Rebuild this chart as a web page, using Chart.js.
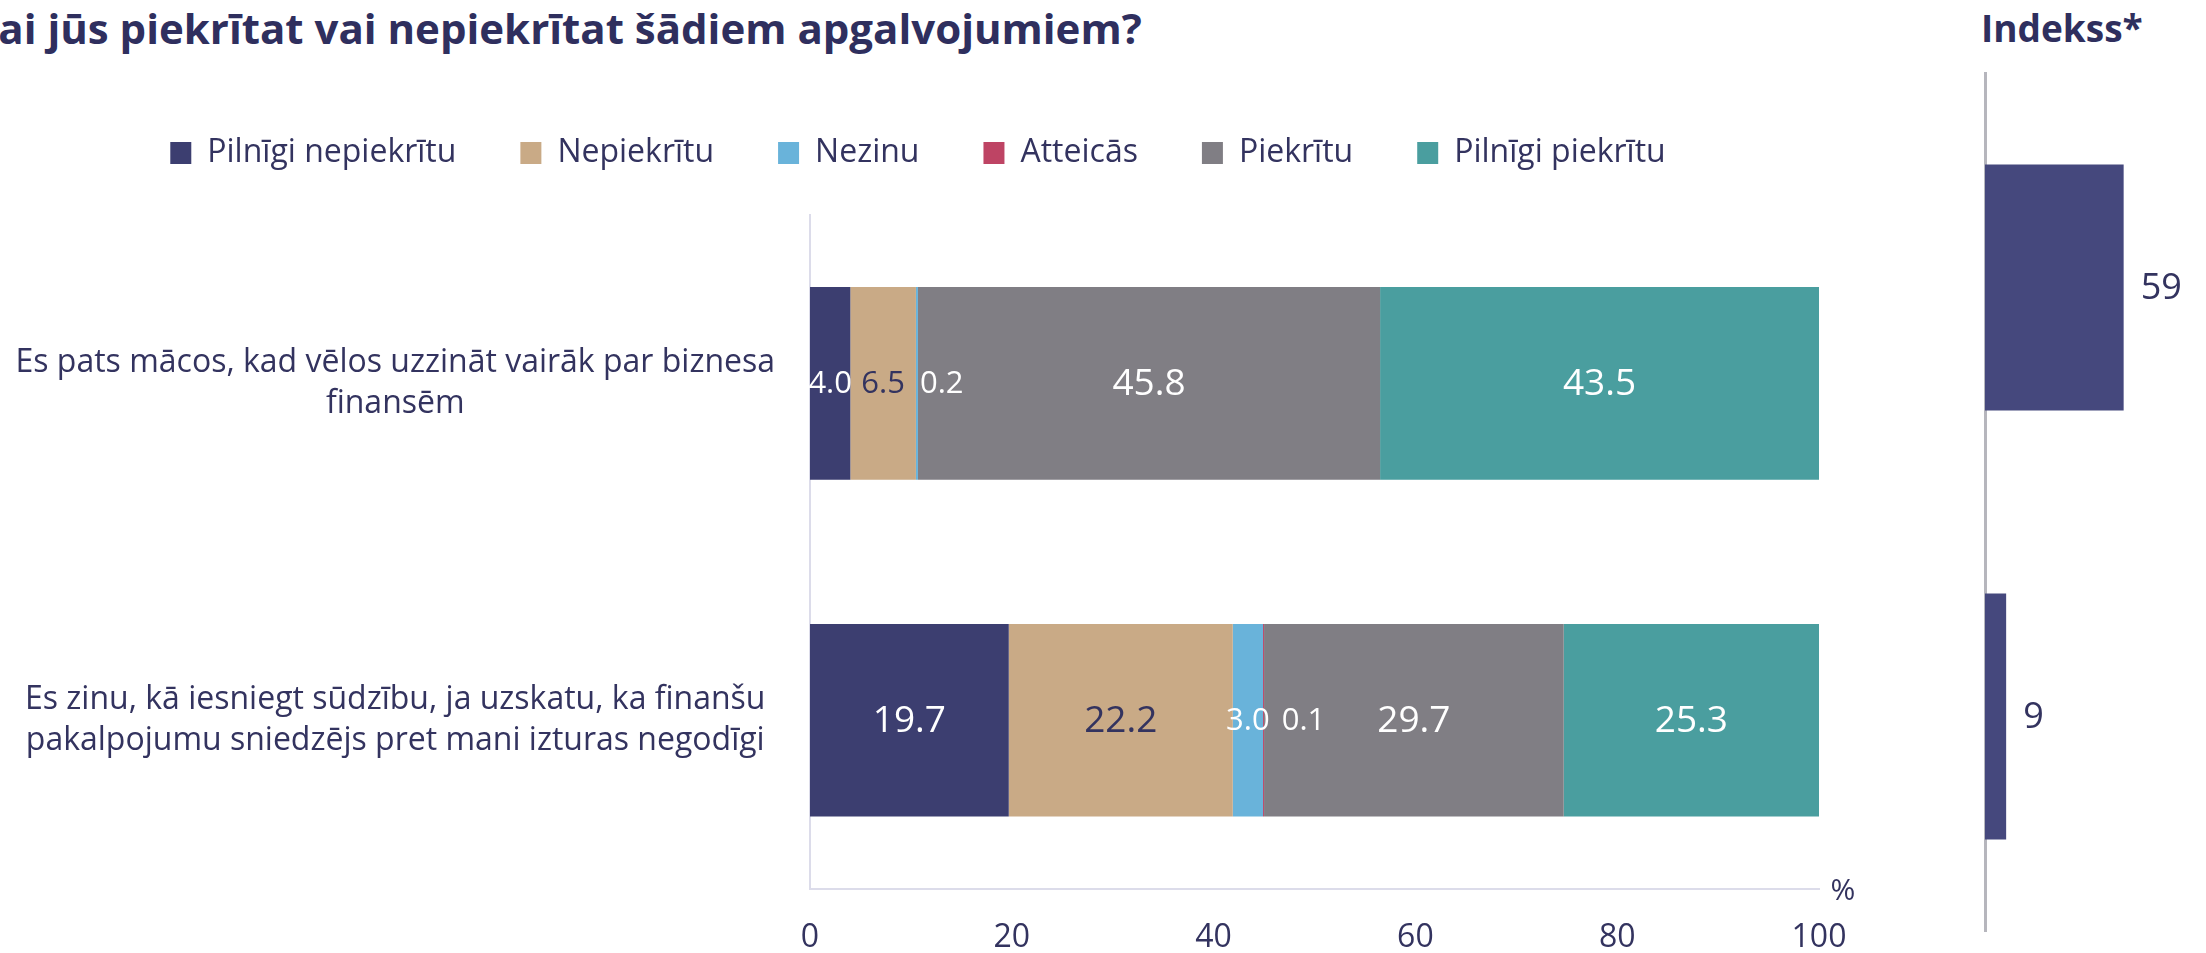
<!DOCTYPE html>
<html>
<head>
<meta charset="utf-8">
<script src="https://cdn.jsdelivr.net/npm/chart.js@4.4.1/dist/chart.umd.min.js"></script>
<style>
  body { margin: 0; width: 2206px; height: 953px; overflow: hidden; background: #fff; position: relative; font-family: 'Open Sans', sans-serif; }
  .head { position: absolute; top: 4px; line-height: 48px; font-weight: bold; font-size: 42px; color: #2f2f5e; white-space: nowrap; }
  #title { left: -29px; }
  #indexTitle { left: 1981px; font-size: 37px; }
  #mainChart { position: absolute; left: 0; top: 0; }
  #indexChart { position: absolute; left: 1960px; top: 0; }
</style>
</head>
<body>
<div id="title" class="head">Vai jūs piekrītat vai nepiekrītat šādiem apgalvojumiem?</div>
<div id="indexTitle" class="head">Indekss*</div>
<canvas id="mainChart" width="1880" height="953"></canvas>
<canvas id="indexChart" width="300" height="953"></canvas>
<script>
'use strict';

// chart data
var categories = [
    ['Es pats mācos, kad vēlos uzzināt vairāk par biznesa', 'finansēm'],
    ['Es zinu, kā iesniegt sūdzību, ja uzskatu, ka finanšu', 'pakalpojumu sniedzējs pret mani izturas negodīgi']
];
var seriesNames = ['Pilnīgi nepiekrītu', 'Nepiekrītu', 'Nezinu', 'Atteicās', 'Piekrītu', 'Pilnīgi piekrītu'];
var fullyDisagree = [4.0, 19.7];
var disagree = [6.5, 22.2];
var dontKnow = [0.2, 3.0];
var refused = [0, 0.1];
var agree = [45.8, 29.7];
var fullyAgree = [43.5, 25.3];
var indexValues = [59, 9];
var xTicks = [0, 20, 40, 60, 80, 100];

// colours
var textColor = '#33335f';
var barColors = ['#3c3e70', '#c9aa86', '#69b3da', '#be4464', '#807e84', '#4a9e9f'];
var labelColors = ['#ffffff', '#33335f', '#ffffff', '#ffffff', '#ffffff', '#ffffff'];
var axisColor = '#dcdcea';

Chart.defaults.font.family = "'Open Sans', sans-serif";
Chart.defaults.color = textColor;

var seriesValues = [fullyDisagree, disagree, dontKnow, refused, agree, fullyAgree];
var datasets = [];
for (var i = 0; i < seriesNames.length; i++) {
    datasets.push({
        label: seriesNames[i],
        data: seriesValues[i],
        backgroundColor: barColors[i],
        borderWidth: 0,
        barPercentage: 0.572,
        categoryPercentage: 1
    });
}

// push the chart area down below the legend
var legendGap = {
    id: 'legendGap',
    beforeLayout: function(chart) {
        var lg = chart.legend;
        if (lg && !lg.gapPatched) {
            var fit = lg.fit;
            lg.fit = function() {
                fit.call(this);
                this.height += 36;
            };
            lg.gapPatched = true;
        }
    }
};

// numbers inside the stacked bars
var barLabels = {
    id: 'barLabels',
    afterDatasetsDraw: function(chart) {
        var ctx = chart.ctx;
        var lastEnd = [];
        ctx.save();
        ctx.textBaseline = 'middle';
        ctx.textAlign = 'left';
        chart.data.datasets.forEach(function(ds, i) {
            var meta = chart.getDatasetMeta(i);
            meta.data.forEach(function(bar, j) {
                var v = ds.data[j];
                if (!v) return;
                var txt = v.toFixed(1);
                ctx.font = (v < 7 ? 31 : 37) + "px 'Open Sans'";
                ctx.fillStyle = labelColors[i];
                var w = ctx.measureText(txt).width;
                var x;
                if (v < 1) {
                    x = Math.max(bar.x + 2, (lastEnd[j] || 0) + 12);
                } else {
                    x = (bar.x + bar.base) / 2 - w / 2;
                }
                ctx.fillText(txt, x, bar.y + 1);
                lastEnd[j] = x + w;
            });
        });
        ctx.restore();
    }
};

// the % sign at the end of the x axis
var percentSign = {
    id: 'percentSign',
    afterDraw: function(chart) {
        var ctx = chart.ctx;
        var area = chart.chartArea;
        ctx.save();
        ctx.font = "30px 'Open Sans'";
        ctx.fillStyle = textColor;
        ctx.textAlign = 'center';
        ctx.textBaseline = 'middle';
        ctx.fillText('%', area.right + 24, area.bottom + 3);
        ctx.restore();
    }
};

var mainChart = new Chart(document.getElementById('mainChart'), {
    type: 'bar',
    data: {
        labels: categories,
        datasets: datasets
    },
    options: {
        indexAxis: 'y',
        responsive: false,
        animation: false,
        // bottom is negative because the x tick padding is counted twice
        layout: { padding: { left: 17, right: 61, top: 73, bottom: -34 } },
        scales: {
            x: {
                stacked: true,
                min: 0,
                max: 100,
                afterBuildTicks: function(scale) {
                    scale.ticks = xTicks.map(function(t) { return { value: t }; });
                },
                ticks: { color: textColor, font: { size: 32 }, padding: 30 },
                grid: { display: false, drawTicks: false },
                border: { color: axisColor, width: 2 }
            },
            y: {
                stacked: true,
                // tick length gives the gap between labels and axis without adding vertical padding
                ticks: { color: textColor, font: { size: 32, lineHeight: 1.28 }, crossAlign: 'center', padding: 0 },
                grid: { display: false, drawTicks: true, tickLength: 35 },
                border: { color: axisColor, width: 2 },
                afterFit: function(scale) { scale.width = 793; }
            }
        },
        plugins: {
            legend: {
                labels: { boxWidth: 21, boxHeight: 22, padding: 64, color: textColor, font: { size: 32 } }
            },
            tooltip: { enabled: false }
        }
    },
    plugins: [legendGap, barLabels, percentSign]
});

// index value next to its bar
var indexLabels = {
    id: 'indexLabels',
    afterDatasetsDraw: function(chart) {
        var ctx = chart.ctx;
        var meta = chart.getDatasetMeta(0);
        ctx.save();
        ctx.font = "36px 'Open Sans'";
        ctx.fillStyle = textColor;
        ctx.textAlign = 'left';
        ctx.textBaseline = 'middle';
        meta.data.forEach(function(bar, j) {
            ctx.fillText(String(indexValues[j]), bar.x + 17, bar.y + 1);
        });
        ctx.restore();
    }
};

var indexChart = new Chart(document.getElementById('indexChart'), {
    type: 'bar',
    data: {
        labels: categories,
        datasets: [{
            label: 'Indekss',
            data: indexValues,
            backgroundColor: '#45487d',
            borderWidth: 0,
            barPercentage: 0.573,
            categoryPercentage: 1
        }]
    },
    options: {
        indexAxis: 'y',
        responsive: false,
        animation: false,
        layout: { padding: { left: 25, right: 40, top: 73, bottom: 22 } },
        scales: {
            x: { display: false, min: 0, max: 100 },
            y: {
                ticks: { display: false },
                grid: { display: false, drawTicks: false },
                border: { color: '#b6b6bd', width: 3 },
                afterFit: function(scale) { scale.width = 0; }
            }
        },
        plugins: {
            legend: { display: false },
            tooltip: { enabled: false }
        }
    },
    plugins: [indexLabels]
});
</script>
</body>
</html>
